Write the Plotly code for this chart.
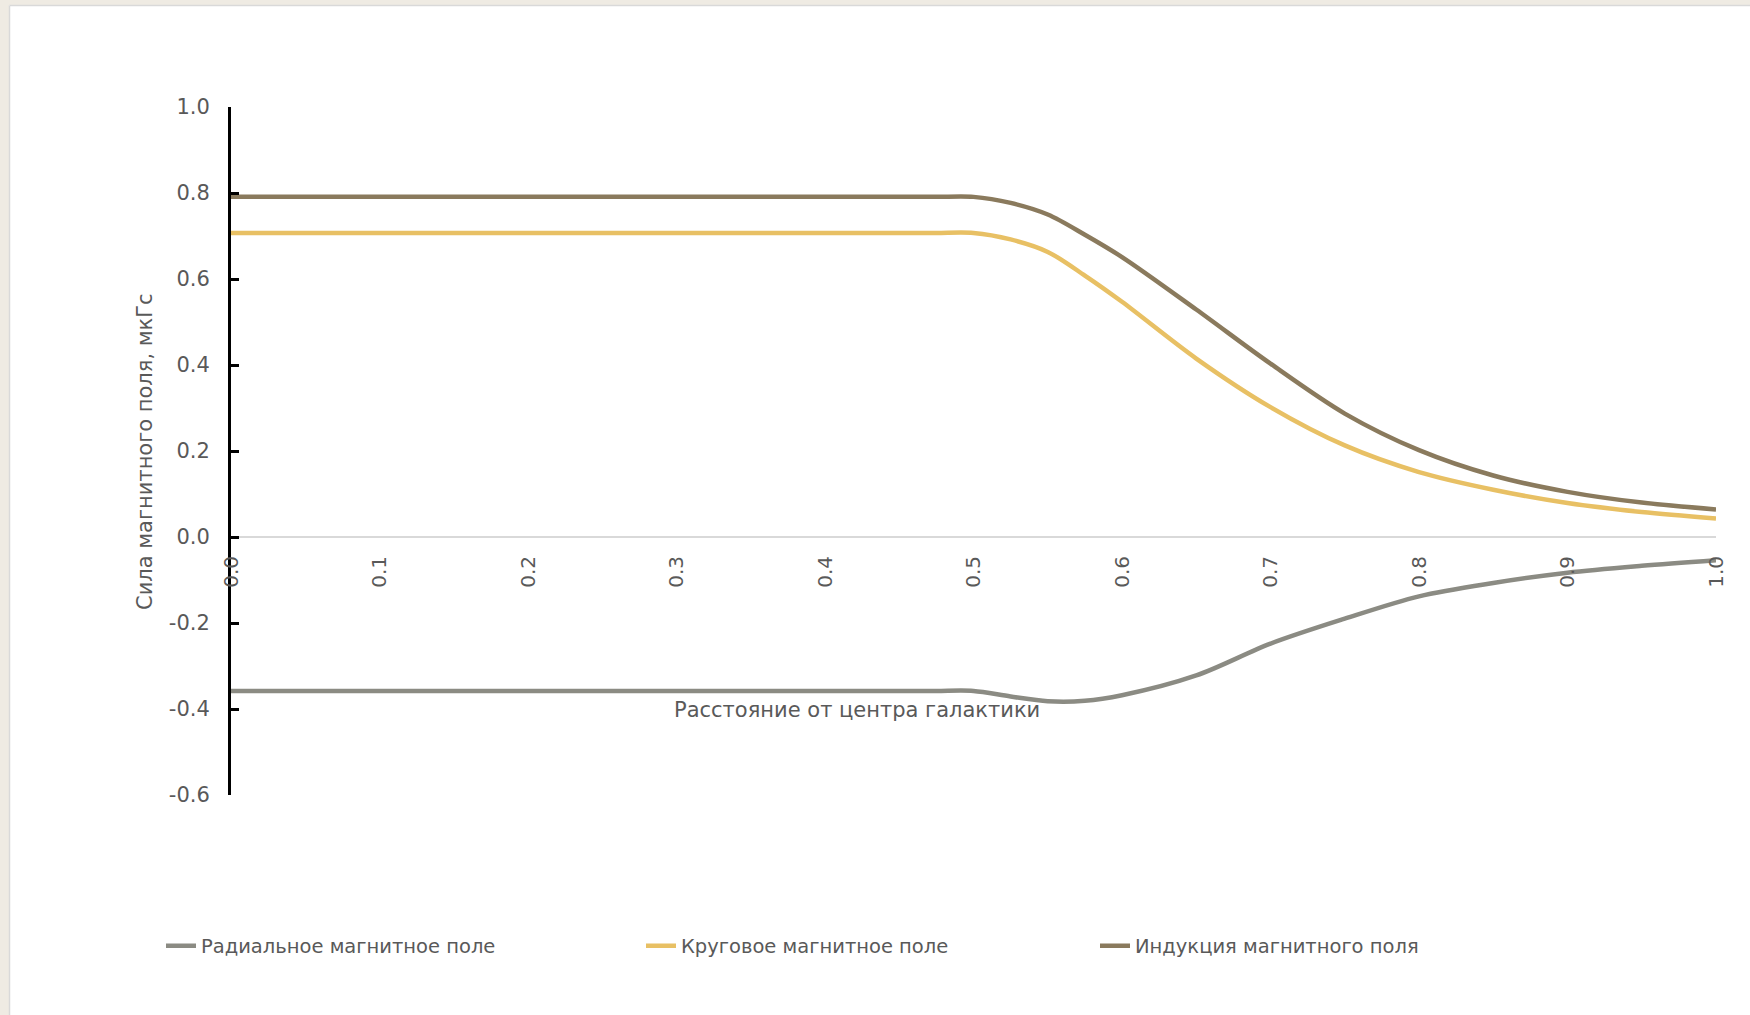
import plotly.graph_objects as go

# ---- data ----
distance = [0.00, 0.05, 0.10, 0.15, 0.20, 0.25, 0.30, 0.35, 0.40, 0.45, 0.475, 0.50,
            0.525, 0.55, 0.575, 0.60, 0.65, 0.70, 0.75, 0.80, 0.85, 0.90, 0.95, 1.00]
radial = [-0.358, -0.358, -0.358, -0.358, -0.358, -0.358, -0.358, -0.358, -0.358, -0.358, -0.358, -0.358,
          -0.371, -0.382, -0.381, -0.368, -0.322, -0.248, -0.190, -0.138, -0.107, -0.083, -0.067, -0.054]
circular = [0.707, 0.707, 0.707, 0.707, 0.707, 0.707, 0.707, 0.707, 0.707, 0.707, 0.707, 0.707,
            0.692, 0.663, 0.608, 0.547, 0.415, 0.302, 0.213, 0.151, 0.110, 0.079, 0.058, 0.043]
induction = [0.791, 0.791, 0.791, 0.791, 0.791, 0.791, 0.791, 0.791, 0.791, 0.791, 0.791, 0.791,
             0.777, 0.750, 0.703, 0.651, 0.529, 0.403, 0.287, 0.202, 0.143, 0.105, 0.080, 0.064]

series_names = ["Радиальное магнитное поле", "Круговое магнитное поле", "Индукция магнитного поля"]
x_ticks = [0.0, 0.1, 0.2, 0.3, 0.4, 0.5, 0.6, 0.7, 0.8, 0.9, 1.0]
x_ticktext = ["0.0", "0.1", "0.2", "0.3", "0.4", "0.5", "0.6", "0.7", "0.8", "0.9", "1.0"]
y_ticks = [-0.6, -0.4, -0.2, 0.0, 0.2, 0.4, 0.6, 0.8, 1.0]
y_ticktext = ["-0.6", "-0.4", "-0.2", "0.0", "0.2", "0.4", "0.6", "0.8", "1.0"]
x_title = "Расстояние от центра галактики"
y_title = "Сила магнитного поля, мкГс"

# ---- style ----
W, H = 1750, 1015
ML, MR, MT, MB = 231, 34, 107, 220
PW, PH = W - ML - MR, H - MT - MB
FONT = "DejaVu Sans, Liberation Sans, Arial, sans-serif"
TXT = "#595959"
colors = ["#8b8b83", "#e8c064", "#8a7a5d"]
legend_keys = ["legend", "legend2", "legend3"]


def px_x(px):
    return (px - ML) / PW


def px_y(py):
    return (H - MB - py) / PH


fig = go.Figure()
for name, ys, col, lg in zip(series_names, [radial, circular, induction], colors, legend_keys):
    fig.add_trace(go.Scatter(
        x=distance, y=ys, name=name, mode="lines", legend=lg,
        line=dict(color=col, width=4.5, shape="spline", smoothing=0.9),
        hoverinfo="x+y+name",
    ))

legend_common = dict(orientation="h", font=dict(family=FONT, size=19.5, color=TXT),
                     bgcolor="rgba(0,0,0,0)", borderwidth=0, xanchor="left", yanchor="middle",
                     y=px_y(946), itemwidth=30)

fig.update_layout(
    width=W, height=H,
    margin=dict(l=ML, r=MR, t=MT, b=MB),
    paper_bgcolor="white", plot_bgcolor="white",
    font=dict(family=FONT, color=TXT),
    showlegend=True,
    legend=dict(x=px_x(161), **legend_common),
    legend2=dict(x=px_x(641), **legend_common),
    legend3=dict(x=px_x(1095), **legend_common),
    xaxis=dict(
        range=[0, 1], tickvals=x_ticks, ticktext=x_ticktext, tickangle=-90,
        anchor="free", position=0.6 / 1.6,
        showline=True, linecolor="#d9d9d9", linewidth=2,
        showgrid=False, zeroline=False, ticks="",
        ticklabelstandoff=10,
        tickfont=dict(family=FONT, size=20, color=TXT),
    ),
    yaxis=dict(
        range=[-0.6, 1.0], tickvals=y_ticks, ticktext=y_ticktext,
        showline=True, linecolor="black", linewidth=3,
        ticks="inside", ticklen=8, tickwidth=2.5, tickcolor="black",
        showgrid=False, zeroline=False,
        ticklabelstandoff=14,
        tickfont=dict(family=FONT, size=21, color=TXT),
    ),
    annotations=[
        dict(text=x_title, xref="paper", yref="paper", x=px_x(857), y=px_y(710),
             xanchor="center", yanchor="middle", showarrow=False,
             font=dict(family=FONT, size=21, color=TXT)),
        dict(text=y_title, xref="paper", yref="paper", x=px_x(145), y=px_y(452),
             xanchor="center", yanchor="middle", showarrow=False, textangle=-90,
             font=dict(family=FONT, size=21, color=TXT)),
    ],
    shapes=[
        dict(type="rect", xref="paper", yref="paper", x0=px_x(-5), x1=px_x(W + 5),
             y0=px_y(5), y1=px_y(-5), fillcolor="#efebe3", line_width=0, layer="above"),
        dict(type="rect", xref="paper", yref="paper", x0=px_x(-5), x1=px_x(9),
             y0=px_y(H + 5), y1=px_y(-5), fillcolor="#efebe3", line_width=0, layer="above"),
        dict(type="line", xref="paper", yref="paper", x0=px_x(9.5), x1=px_x(W + 5),
             y0=px_y(5.5), y1=px_y(5.5), line=dict(color="#d9d9d9", width=1.5), layer="above"),
        dict(type="line", xref="paper", yref="paper", x0=px_x(9.5), x1=px_x(9.5),
             y0=px_y(5.5), y1=px_y(H + 5), line=dict(color="#d9d9d9", width=1.5), layer="above"),
    ],
)

fig.write_html("out.html")
